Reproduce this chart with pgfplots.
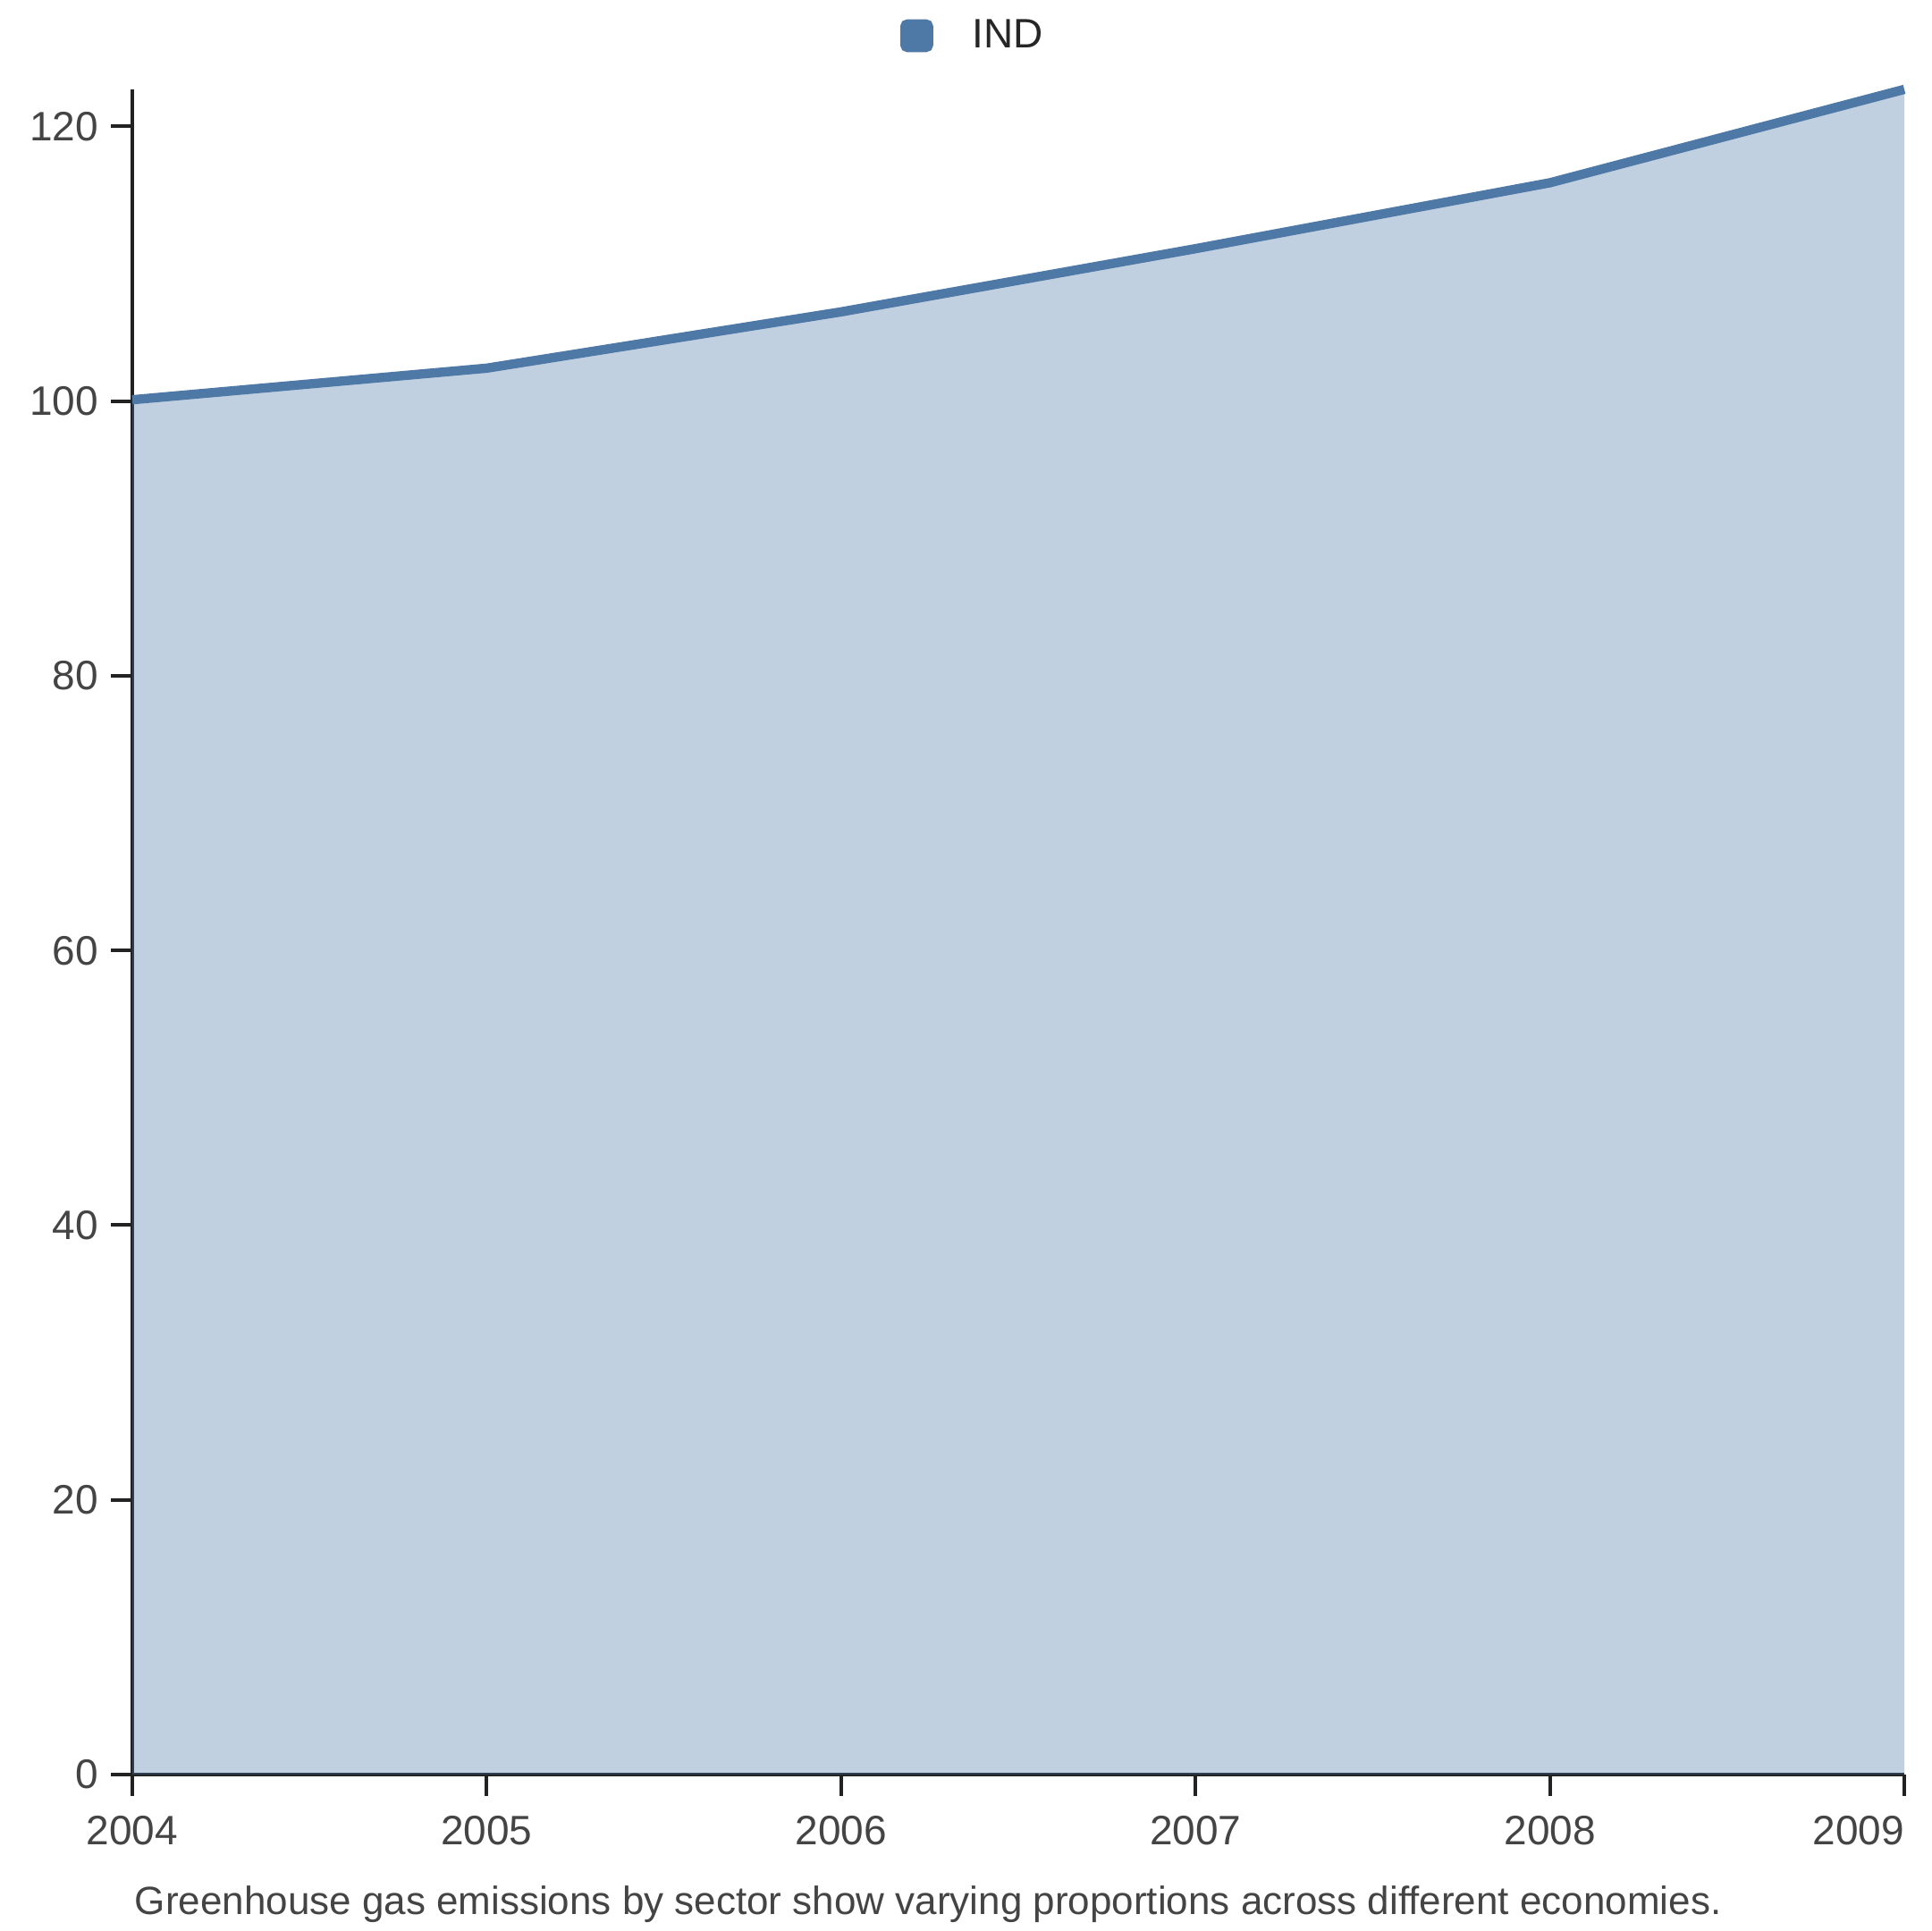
\documentclass[border=0pt]{standalone}
\usepackage{pgfplots}
\pgfplotsset{compat=1.18}
\usepackage{fontspec}
\setmainfont{Liberation Sans}
\definecolor{ind}{HTML}{4E79A7}
\definecolor{ticktext}{HTML}{444444}
\definecolor{axisline}{HTML}{222222}
\begin{document}
\begin{tikzpicture}
\path[use as bounding box] (-37pt,-43.75pt) rectangle (503pt,496.25pt);
\begin{axis}[
  at={(0,0)}, anchor=origin,
  scale only axis,
  width=495.5pt, height=471.25pt,
  xmin=2004, xmax=2009, ymin=0, ymax=122.7,
  axis lines*=left,
  axis line style={axisline, line width=1pt},
  xtick={2004,2005,2006,2007,2008,2009},
  xticklabels={2004,2005,2006,2007,2008,\makebox[0pt][r]{2009}},
  ytick={0,20,40,60,80,100,120},
  tick align=outside,
  major tick length=6pt,
  tick style={axisline, line width=1pt},
  xticklabel style={font=\fontsize{11.5}{13}\selectfont, text=ticktext, yshift=-2pt},
  yticklabel style={font=\fontsize{11.5}{13}\selectfont, text=ticktext},
  /pgf/number format/assume math mode=true,
  x axis line style={-}, y axis line style={-},
  legend style={at={(0.5,1)}, anchor=south, xshift=-12pt, yshift=6pt, draw=none, font=\fontsize{11.5}{13}\selectfont, text=black!85},
  legend cell align=left,
  legend image code/.code={\fill[ind, rounded corners=0.8pt] (0.3pt,-3.2pt) rectangle (6.9pt,3.4pt);},
  clip=false,
]
\addplot[draw=none, fill=ind, fill opacity=0.35, forget plot] coordinates {
(2004,100.1) (2005,102.4) (2006,106.5) (2007,111.1) (2008,115.9) (2009,122.7) (2009,0) (2004,0)} -- cycle;
\addplot[ind, line width=2.6pt] coordinates {
(2004,100.1) (2005,102.4) (2006,106.5) (2007,111.1) (2008,115.9) (2009,122.7)};
\addlegendentry{\hspace{9pt}IND}
\end{axis}
\node[anchor=base west, inner sep=0pt, font=\fontsize{11}{13}\selectfont, text=ticktext] at (0.5pt,-39pt) {Greenhouse gas emissions by sector show varying proportions across different economies.};
\end{tikzpicture}
\end{document}
